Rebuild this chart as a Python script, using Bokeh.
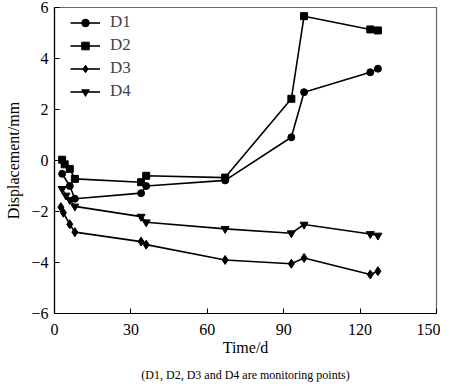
from bokeh.plotting import figure
from bokeh.models import Legend, LegendItem, Range1d, FixedTicker, Title
from bokeh.embed import file_html
from bokeh.resources import INLINE

d1_x = [3, 6, 8, 34, 36, 67, 93, 98, 124, 127]
d1_y = [-0.52, -1.0, -1.5, -1.28, -1.0, -0.78, 0.91, 2.68, 3.46, 3.6]
d2_x = [3, 4, 6, 8, 34, 36, 67, 93, 98, 124, 127]
d2_y = [0.03, -0.15, -0.33, -0.72, -0.85, -0.6, -0.67, 2.42, 5.66, 5.14, 5.1]
d3_x = [2.5, 3.5, 6, 8, 34, 36, 67, 93, 98, 124, 127]
d3_y = [-1.83, -2.05, -2.5, -2.81, -3.18, -3.3, -3.9, -4.05, -3.82, -4.47, -4.34]
d4_x = [3, 4.5, 6, 8, 34, 36, 67, 93, 98, 124, 127]
d4_y = [-1.11, -1.37, -1.54, -1.8, -2.2, -2.42, -2.68, -2.85, -2.51, -2.88, -2.94]

names = ["D1", "D2", "D3", "D4"]
x_ticks = [0, 30, 60, 90, 120, 150]
y_ticks = [-6, -4, -2, 0, 2, 4, 6]
y_tick_labels = ["\u22126", "\u22124", "\u22122", "0", "2", "4", "6"]

FONT = "Liberation Serif"

p = figure(width=440, height=388, output_backend="svg", toolbar_location=None,
           x_range=Range1d(0, 150), y_range=Range1d(-6, 6),
           min_border_left=54, min_border_right=4, min_border_top=7, min_border_bottom=40)
p.xgrid.visible = False
p.ygrid.visible = False
p.outline_line_color = "#666666"
p.outline_line_width = 1.2

for ax in (p.xaxis[0], p.yaxis[0]):
    ax.major_tick_in = 5
    ax.major_tick_out = 0
    ax.minor_tick_in = 0
    ax.minor_tick_out = 0
    ax.axis_line_color = "black"
    ax.axis_line_width = 1.2
    ax.major_tick_line_color = "black"
    ax.major_label_text_font = FONT
    ax.major_label_text_font_size = "16px"
    ax.major_label_text_color = "black"
    ax.axis_label_text_font = FONT
    ax.axis_label_text_font_size = "16px"
    ax.axis_label_text_font_style = "normal"
    ax.axis_label_text_color = "black"
p.xaxis.ticker = FixedTicker(ticks=x_ticks)
p.yaxis.ticker = FixedTicker(ticks=y_ticks)
p.yaxis.major_label_overrides = {t: s for t, s in zip(y_ticks, y_tick_labels)}
p.xaxis.axis_label = "Time/d"
p.yaxis.axis_label = "Displacement/mm"
p.xaxis.major_label_standoff = 10
p.yaxis.major_label_standoff = 6
p.xaxis.axis_label_standoff = 1
p.yaxis.axis_label_standoff = 6

series = [(d1_x, d1_y, "circle", 7), (d2_x, d2_y, "square", 7),
          (d3_x, d3_y, "diamond", 9), (d4_x, d4_y, "inverted_triangle", 8)]
items = []
for (xs, ys, mk, sz), nm in zip(series, names):
    lr = p.line(xs, ys, line_color="black", line_width=1.6)
    sr = p.scatter(xs, ys, marker=mk, size=sz, fill_color="black", line_color="black")
    items.append(LegendItem(label=nm, renderers=[lr, sr]))

legend = Legend(items=items, location=(14, 210))
legend.background_fill_alpha = 0
legend.border_line_alpha = 0
legend.label_text_font = FONT
legend.label_text_font_size = "17px"
legend.glyph_width = 30
legend.glyph_height = 19
legend.label_height = 19
legend.spacing = 3
legend.padding = 2
legend.margin = 0
legend.label_standoff = 10
p.add_layout(legend, "center")

cap = Title(text="(D1, D2, D3 and D4 are monitoring points)", align="center",
            text_font=FONT, text_font_size="12px", text_font_style="normal",
            text_color="black", standoff=14, offset=0)
p.add_layout(cap, "below")

open("out.html", "w").write(file_html(p, INLINE))
